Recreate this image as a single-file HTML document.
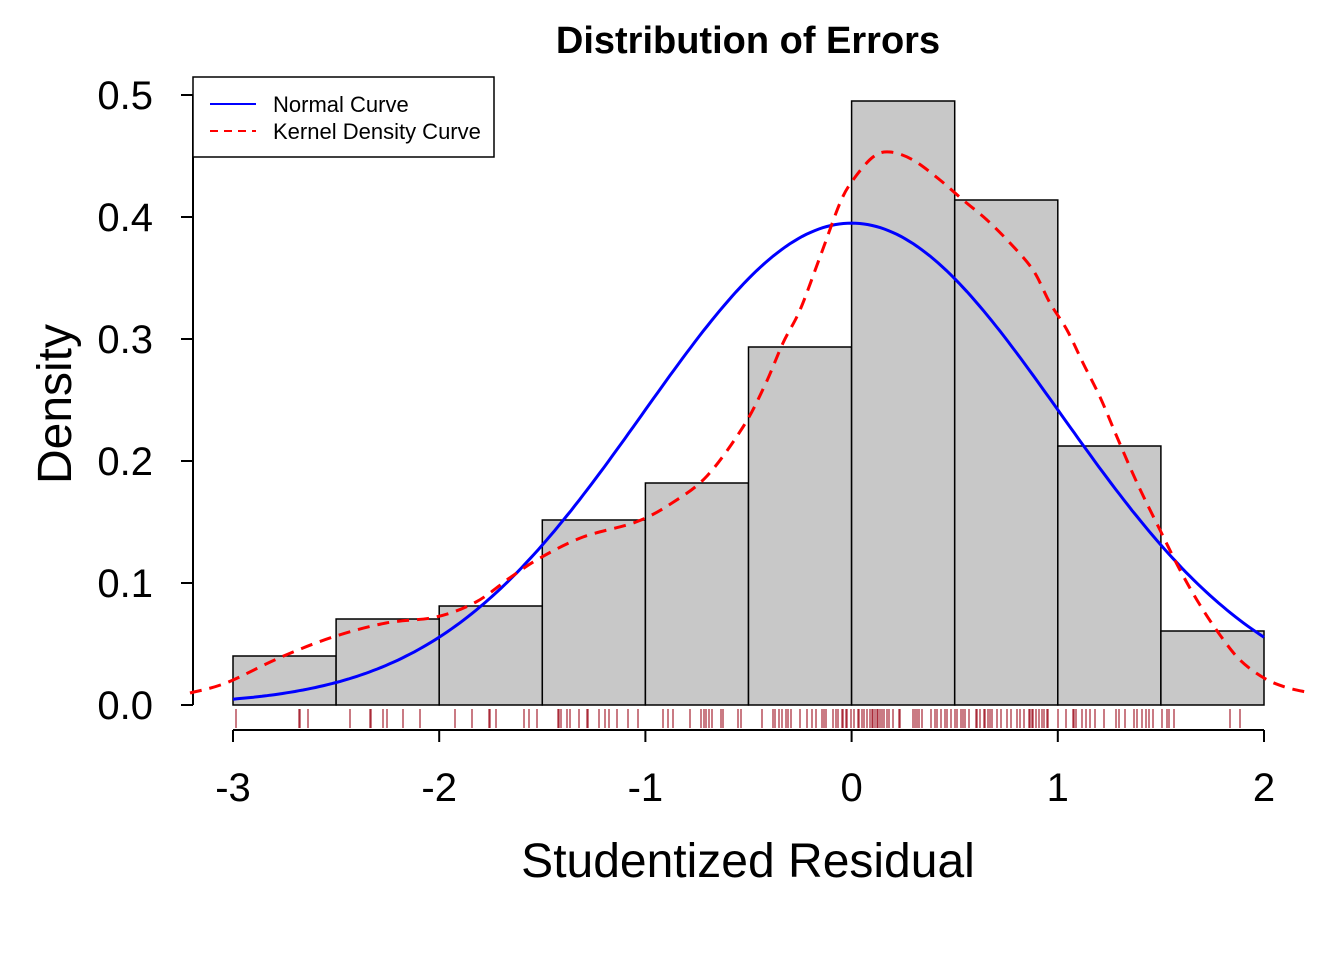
<!DOCTYPE html>
<html><head><meta charset="utf-8"><style>
html,body{margin:0;padding:0;background:#fff}
svg{display:block;font-family:"Liberation Sans",Arial,sans-serif}
</style></head><body>
<svg id="s" width="1344" height="960" viewBox="0 0 1344 960" xmlns="http://www.w3.org/2000/svg">
<rect width="1344" height="960" fill="#fff"/>
<text x="748" y="53" font-size="38" font-weight="bold" text-anchor="middle">Distribution of Errors</text>
<g fill="#c8c8c8" stroke="#000" stroke-width="1.5">
<rect x="233" y="656" width="103.1" height="49"/>
<rect x="336.1" y="619" width="103.1" height="86"/>
<rect x="439.2" y="606" width="103.1" height="99"/>
<rect x="542.3" y="520" width="103.1" height="185"/>
<rect x="645.4" y="483" width="103.1" height="222"/>
<rect x="748.5" y="347" width="103.1" height="358"/>
<rect x="851.6" y="101" width="103.1" height="604"/>
<rect x="954.7" y="200" width="103.1" height="505"/>
<rect x="1057.8" y="446" width="103.1" height="259"/>
<rect x="1160.9" y="631" width="103.1" height="74"/>
</g>
<g stroke="#000" stroke-width="2" fill="none">
<line x1="193" y1="95" x2="193" y2="705"/>
<line x1="181" y1="705" x2="193" y2="705"/><line x1="181" y1="583" x2="193" y2="583"/>
<line x1="181" y1="461" x2="193" y2="461"/><line x1="181" y1="339" x2="193" y2="339"/>
<line x1="181" y1="217" x2="193" y2="217"/><line x1="181" y1="95" x2="193" y2="95"/>
<line x1="233" y1="730" x2="1264" y2="730"/>
<line x1="233" y1="730" x2="233" y2="742"/><line x1="439.2" y1="730" x2="439.2" y2="742"/>
<line x1="645.4" y1="730" x2="645.4" y2="742"/><line x1="851.6" y1="730" x2="851.6" y2="742"/>
<line x1="1057.8" y1="730" x2="1057.8" y2="742"/><line x1="1264" y1="730" x2="1264" y2="742"/>
</g>
<g font-size="40" text-anchor="end">
<text x="153" y="719">0.0</text><text x="153" y="597">0.1</text><text x="153" y="475">0.2</text>
<text x="153" y="353">0.3</text><text x="153" y="231">0.4</text><text x="153" y="109">0.5</text>
</g>
<g font-size="40" text-anchor="middle">
<text x="233" y="801">-3</text><text x="439.2" y="801">-2</text><text x="645.4" y="801">-1</text>
<text x="851.6" y="801">0</text><text x="1057.8" y="801">1</text><text x="1264" y="801">2</text>
</g>
<text x="748" y="877" font-size="48" text-anchor="middle">Studentized Residual</text>
<text transform="translate(71,404) rotate(-90)" font-size="48" text-anchor="middle">Density</text>
<g id="rug" stroke="#a01020" stroke-width="1.3" stroke-opacity="0.85"></g>
<path id="norm" fill="none" stroke="#0000ff" stroke-width="3"/>
<path id="kde" fill="none" stroke="#ff0000" stroke-width="3" stroke-dasharray="12,8"/>
<rect x="193" y="77" width="301" height="80" fill="#fff" stroke="#000" stroke-width="1.5"/>
<line x1="210" y1="104" x2="256" y2="104" stroke="#0000ff" stroke-width="2"/>
<line x1="210" y1="131" x2="256" y2="131" stroke="#ff0000" stroke-width="2" stroke-dasharray="8,6"/>
<text x="273" y="112" font-size="22">Normal Curve</text>
<text x="273" y="139" font-size="22">Kernel Density Curve</text>
</svg>
<script>
(function(){
var px=[236,299,300,308,350,370,371,383,387,403,420,455,472,489,490,496,524,529,537,558,559,561,567,570,579,587,588,599,605,609,617,628,638,663,668,673,690,701,704,706,709,712,721,723,738,741,762,773,775,779,782,786,788,791,800,807,812,816,822,824,826,833,836,838,842,843,846,847,851,854,858,859,862,864,867,870,872,873,875,877,878,880,882,884,887,889,893,899,900,913,915,917,919,922,931,935,937,941,945,947,951,955,957,961,963,965,969,976,977,980,984,985,988,990,992,997,1001,1007,1011,1017,1020,1024,1029,1030,1032,1033,1036,1039,1042,1044,1047,1048,1058,1066,1073,1074,1076,1082,1086,1090,1095,1104,1116,1119,1125,1134,1137,1142,1146,1149,1153,1162,1167,1169,1174,1230,1240];
var ns="http://www.w3.org/2000/svg",rug=document.getElementById("rug");
px.forEach(function(p){var l=document.createElementNS(ns,"line");l.setAttribute("x1",p);l.setAttribute("x2",p);l.setAttribute("y1",709);l.setAttribute("y2",728);rug.appendChild(l);});
function X(v){return 851.6+v*206.2} function Y(d){return 705-d*1220}
var d="";for(var i=0;i<=250;i++){var v=-3+i*0.02;var f=Math.exp(-v*v/(2*1.01*1.01))/(1.01*Math.sqrt(2*Math.PI));d+=(d?"L":"M")+X(v).toFixed(1)+","+Y(f).toFixed(1);}
document.getElementById("norm").setAttribute("d",d);
var P=[[190,693],[226,683],[279,658],[333,637],[386,623],[436,617],[476,602],[511,577],[540,558],[583,537],[636,522],[672,503],[707,476],[743,427],[765,385],[783,343],[800,310],[820,257],[840,203],[853,180],[873,157],[890,152],[913,160],[940,180],[963,200],[987,220],[1010,243],[1033,270],[1050,303],[1067,330],[1083,363],[1100,397],[1117,437],[1138,485],[1160,530],[1180,570],[1200,605],[1220,635],[1240,660],[1264,678],[1285,687],[1306,692]];
var k="M"+P[0][0]+","+P[0][1];
for(var i=0;i<P.length-1;i++){var p0=P[Math.max(0,i-1)],p1=P[i],p2=P[i+1],p3=P[Math.min(P.length-1,i+2)];
k+="C"+(p1[0]+(p2[0]-p0[0])/6).toFixed(1)+","+(p1[1]+(p2[1]-p0[1])/6).toFixed(1)+" "+(p2[0]-(p3[0]-p1[0])/6).toFixed(1)+","+(p2[1]-(p3[1]-p1[1])/6).toFixed(1)+" "+p2[0]+","+p2[1];}
document.getElementById("kde").setAttribute("d",k);
})();
</script>
</body></html>
